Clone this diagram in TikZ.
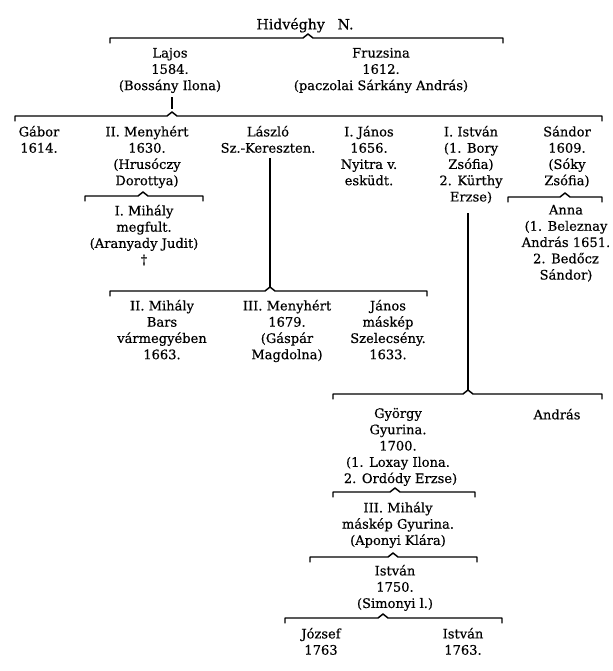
\documentclass[tikz,border=0pt]{standalone}
\usepackage{fontspec}
\setmainfont{DejaVu Serif}[FakeBold=0.4]
\tikzset{
  t/.style={anchor=north,yshift=7pt,align=center,inner sep=0pt,
    font=\fontsize{9.8}{12.2}\selectfont,execute at begin node={\strut}},
  ln/.style={line width=1.1pt,line join=round,line cap=round},
  vl/.style={line width=0.8pt}
}
% bracket: name, left x, peak x, right x, y
\newcommand\gbracket[5]{%
  \coordinate (#1) at (#3,#5-4);
  \draw[ln] (#2,#5+5) -- (#2,#5) -- (#3-5,#5) -- (#1) -- (#3+5,#5) -- (#4,#5) -- (#4,#5+5);
}
\begin{document}
\begin{tikzpicture}[x=0.75pt,y=-0.75pt]
\useasboundingbox[fill=white] (0,0) rectangle (612,671);
% level 0
\node[t,font=\fontsize{10.6}{12.2}\selectfont] (hid) at (305,27) {Hidvéghy\hspace{0.9em}N.};
\gbracket{p1}{110}{308}{503}{38}
\node[t] (lajos) at (170,57) {Lajos\\1584.\\(Bossány Ilona)};
\node[t] (fruz) at (381,57) {Fruzsina\\1612.\\(paczolai Sárkány András)};
\gbracket{p2}{15}{172}{602}{116}
\draw[vl] (p2 |- 0,97) -- (p2 |- 0,109);
% level 2
\node[t] (gabor) at (39,135) {Gábor\\1614.};
\node[t] (men) at (147,135) {II. Menyhért\\1630.\\(Hrusóczy\\Dorottya)};
\node[t] (laszlo) at (268,135) {László\\Sz.-Kereszten.};
\node[t] (janos) at (369,135) {I. János\\1656.\\Nyitra v.\\esküdt.};
\node[t] (istvan) at (471,135) {I. István\\(1. Bory\\Zsófia)\\2. Kürthy\\Erzse)};
\node[t] (sandor) at (567,135) {Sándor\\1609.\\(Sóky\\Zsófia)};
% under Menyhért
\gbracket{p3}{85}{143}{203}{196}
\node[t] (mihaly) at (144,214) {I. Mihály\\megfult.\\(Aranyady Judit)\\†};
% under Sándor
\gbracket{p4}{508}{565}{602}{197}
\node[t] (anna) at (566,214) {Anna\\(1. Beleznay\\András 1651.\\2. Bedőcz\\Sándor)};
% under László
\gbracket{p5}{110}{270}{427}{291}
\draw[vl] (p5 |- 0,158) -- (p5);
\node[t] (mih2) at (162,309) {II. Mihály\\Bars\\vármegyében\\1663.};
\node[t] (men3) at (287,309) {III. Menyhért\\1679.\\(Gáspár\\Magdolna)};
\node[t] (jan2) at (388,309) {János\\máskép\\Szelecsény.\\1633.};
% under István
\gbracket{p6}{333}{468}{602}{394}
\draw[vl] (p6 |- 0,213) -- (p6);
\node[t] (gyorgy) at (398,417) {György\\Gyurina.\\1700.\\(1. Loxay Ilona.\\\hphantom{(}2. Ordódy Erzse)};
\node[t] (andras) at (557,417) {András};
\gbracket{p7}{333}{395}{475}{492}
\node[t] (mih3) at (398,511) {III. Mihály\\máskép Gyurina.\\(Aponyi Klára)};
\gbracket{p8}{310}{393}{477}{557}
\node[t] (istv) at (395,574) {István\\1750.\\(Simonyi l.)};
\gbracket{p9}{285}{383}{502}{618}
\node[t] (jozsef) at (321,637) {József\\1763};
\node[t] (istv2) at (463,637) {István\\1763.};
\end{tikzpicture}
\end{document}
